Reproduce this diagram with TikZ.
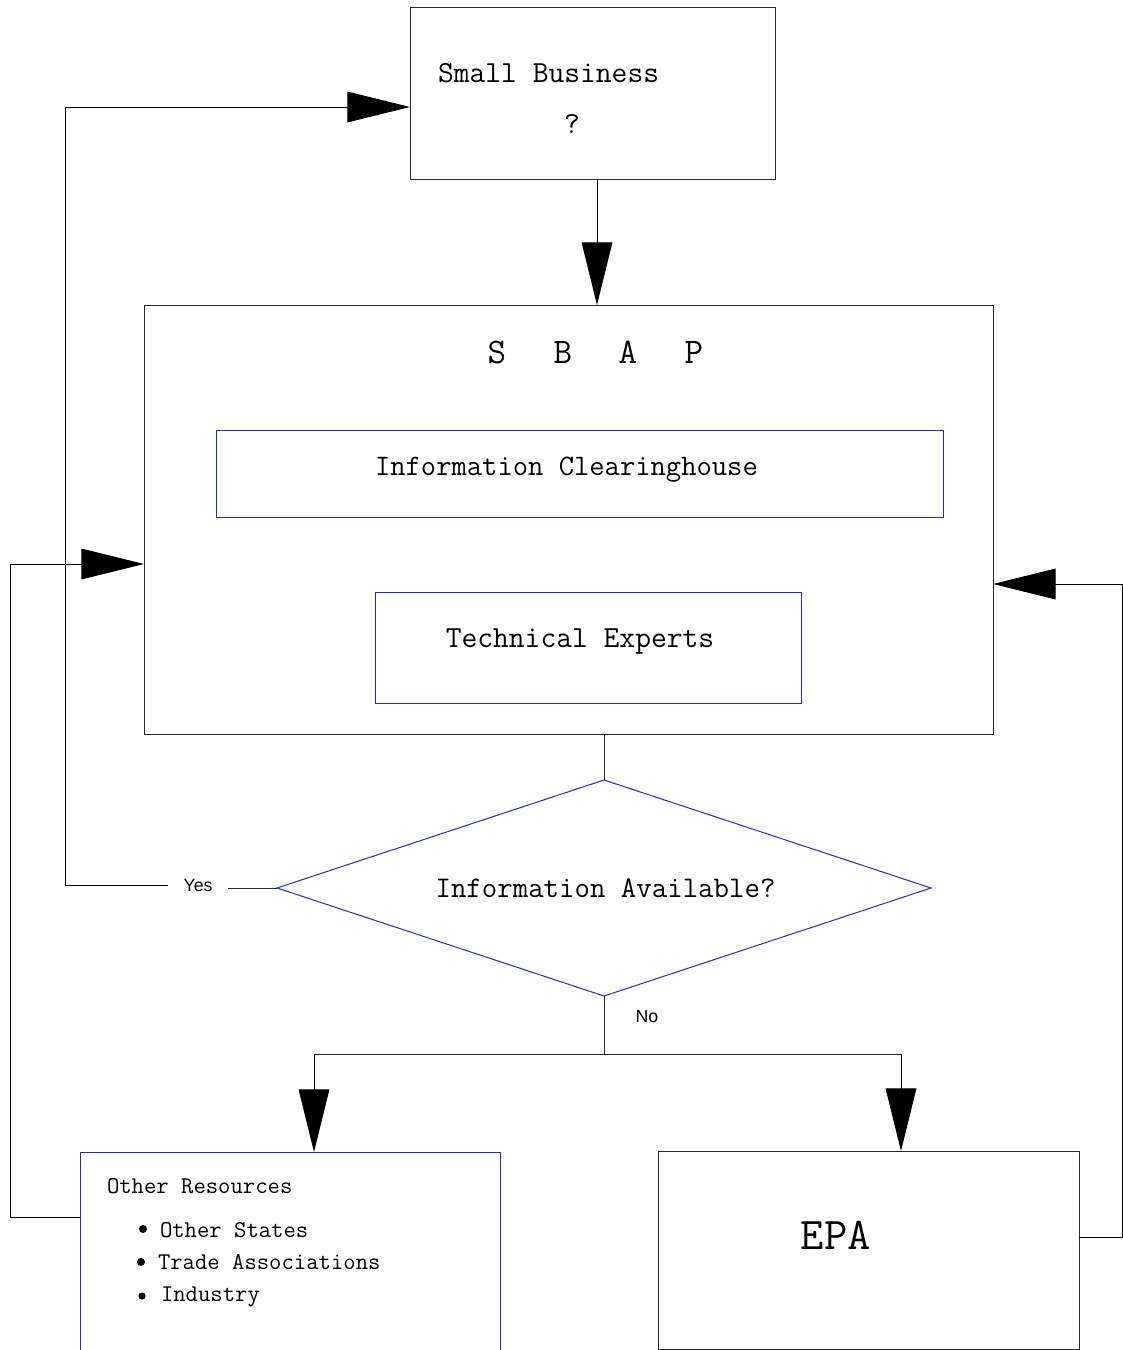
\documentclass[tikz,border=0pt]{standalone}
\usepackage{fontspec}
\newfontfamily\sansf{Liberation Sans}
\usetikzlibrary{arrows.meta,shapes.geometric,calc}
\definecolor{bxblue}{RGB}{40,40,200}
\definecolor{ln}{RGB}{40,40,40}
\def\pu{0.75pt}
\begin{document}
\begin{tikzpicture}[x=0.75pt,y=-0.75pt,
  every node/.style={inner sep=0pt,outer sep=0pt},
  box/.style={draw=ln,line width=0.75pt,rectangle},
  bbox/.style={draw=bxblue,line width=0.75pt,rectangle},
  conn/.style={draw=ln,line width=0.75pt},
  arr/.style={draw=black,line width=0.75pt,-{Triangle[width=23pt,length=47pt]}},
  txt/.style={font=\ttfamily\fontsize{23}{27}\selectfont,anchor=base west},
  smalltxt/.style={font=\ttfamily\fontsize{18}{22}\selectfont,anchor=base west},
  bigtxt/.style={font=\ttfamily\fontsize{27}{32}\selectfont,anchor=base},
  sanstxt/.style={font=\sansf\fontsize{13.3}{16}\selectfont}]
\useasboundingbox (0,0) rectangle (1123,1350);
\fill[white] (0,0) rectangle (1123,1350);

% boxes
\node[box,minimum width=365*\pu,minimum height=172*\pu] (sb) at (592.5,93) {};
\node[box,minimum width=849*\pu,minimum height=429*\pu] (sbap) at (568.5,519.5) {};
\node[bbox,minimum width=727*\pu,minimum height=87*\pu] (ich) at (579.5,473.5) {};
\node[bbox,minimum width=426*\pu,minimum height=111*\pu] (tech) at (588,647.5) {};
\node[diamond,draw=bxblue,line width=0.75pt,aspect=3.03,minimum width=654*\pu,minimum height=216*\pu] (q) at (604,888) {};
\node[bbox,minimum width=420*\pu,minimum height=260*\pu] (other) at (290,1282) {};
\node[box,minimum width=421*\pu,minimum height=198*\pu] (epa) at (868.5,1250) {};

% texts
\node[txt] (tsb) at (438,82) {Small Business};
\node[txt,anchor=base] (tq) at (572,133) {?};
\node[bigtxt] (ls) at (497,363) {S};
\node[bigtxt] (lb) at (563,363) {B};
\node[bigtxt] (la) at (628,363) {A};
\node[bigtxt] (lp) at (694,363) {P};
\node[txt,font=\ttfamily\fontsize{22.3}{26}\selectfont] (tich) at (375,475) {Information Clearinghouse};
\node[txt,anchor=base] (ttech) at (580,647) {Technical Experts};
\node[txt,anchor=base,font=\ttfamily\fontsize{22.5}{27}\selectfont] (tq2) at (605.5,897) {Information Available?};
\node[smalltxt] (tor) at (107,1193) {Other Resources};
\node[smalltxt] (t1) at (160,1237) {Other States};
\node[smalltxt] (t2) at (158,1269) {Trade Associations};
\node[smalltxt] (t3) at (161,1301) {Industry};
\fill (143,1229) circle (3pt);
\fill (141,1262) circle (3pt);
\fill (142,1296) circle (2.7pt);
\node[font=\ttfamily\fontsize{34}{40}\selectfont,anchor=base] (tepa) at (836,1249) {EPA};

% connectors
\coordinate (a1) at (597,0);
\draw[arr] (sb.south -| a1) -- (sbap.north -| a1);

\draw[conn] (sbap.south -| q.north) -- (q.north);

\node[sanstxt,inner xsep=16*\pu] (yes) at (198,885) {Yes};
\draw[conn] (q.west) -- (q.west -| yes.east);
\coordinate (yc) at (65,107);
\draw[arr] (yes.west) -| (yc) -- (yc -| sb.west);

\node[sanstxt] (no) at (647,1016) {No};
\coordinate (nl) at (314,1054);
\coordinate (nr) at (901,1054);
\draw[conn] (q.south) -- (q.south |- nl);
\draw[conn] (nl) -- (nr);
\draw[arr] (nl) -- (nl |- other.north);
\draw[arr] (nr) -- (nr |- epa.north);

\coordinate (lc) at (10,564);
\draw[arr] ([yshift=-65*\pu]other.north west) -| (lc) -- (lc -| sbap.west);

\coordinate (rc) at (1122,584);
\draw[arr] ([yshift=13*\pu]epa.east) -| (rc) -- (rc -| sbap.east);
\end{tikzpicture}
\end{document}
